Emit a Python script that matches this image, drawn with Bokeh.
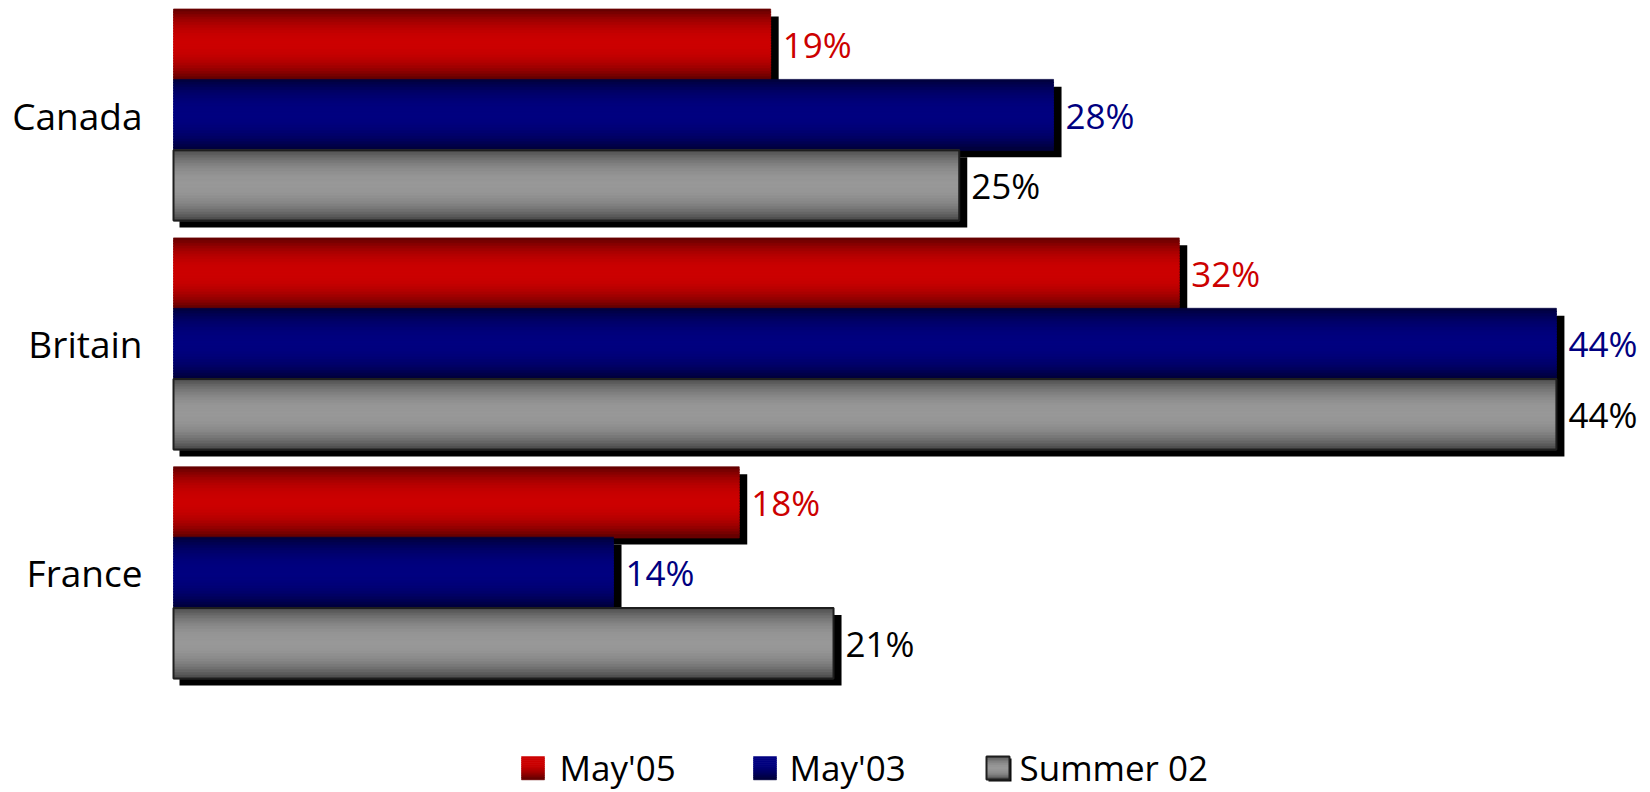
from bokeh.plotting import figure
from bokeh.models import Range1d, ColumnDataSource
from bokeh.embed import file_html
from bokeh.resources import INLINE
from bokeh.core.properties import value

# ---------------- data ----------------
countries = ["Canada", "Britain", "France"]
series_names = ["May'05", "May'03", "Summer 02"]
may05 = [19, 32, 18]
may03 = [28, 44, 14]
summer02 = [25, 44, 21]
series_values = [may05, may03, summer02]

# ---------------- styles ----------------
label_colors = ["#cc0000", "#000080", "#000000"]
dark_colors = [(0x5e, 0x00, 0x00), (0x00, 0x00, 0x38), (0x48, 0x48, 0x48)]
bright_colors = [(0xcc, 0x00, 0x00), (0x00, 0x00, 0x80), (0x98, 0x98, 0x98)]
FONT = value("Open Sans")

# ---------------- layout ----------------
W, H = 1650, 792
X0_PX = 173.0          # pixel of the value 0
PX_PER_UNIT = 31.43    # pixels per percentage point
FIRST_CENTER_PX = 114.5
PITCH_PX = 228.9
BAR_H_PX = 70.4
N_STRIPS = 26

bar_h = BAR_H_PX / PITCH_PX
x_start = -X0_PX / PX_PER_UNIT
x_end = (W - X0_PX) / PX_PER_UNIT
y_start = (H - FIRST_CENTER_PX) / PITCH_PX   # bottom
y_end = -FIRST_CENTER_PX / PITCH_PX          # top (flipped range)


def dx(px):
    return px / PX_PER_UNIT


def dy(px):
    return px / PITCH_PX


def page_x(px):
    return (px - X0_PX) / PX_PER_UNIT


def page_y(py):
    return (py - FIRST_CENTER_PX) / PITCH_PX


def shade(s, f):
    d, b = dark_colors[s], bright_colors[s]
    return "#%02x%02x%02x" % tuple(int(round(d[k] + (b[k] - d[k]) * f)) for k in range(3))


p = figure(width=W, height=H, x_range=Range1d(x_start, x_end),
           y_range=Range1d(y_start, y_end), output_backend="svg",
           toolbar_location=None, min_border=0, outline_line_color=None,
           x_axis_location=None, y_axis_location=None)
p.grid.visible = False
p.background_fill_color = "white"
p.border_fill_color = "white"

group_idx = list(range(len(countries)))

for s, vals in enumerate(series_values):
    centers = [g + (s - 1) * bar_h for g in group_idx]
    # drop shadow
    p.hbar(y=[c + dy(7) for c in centers], left=[dx(6)] * len(vals),
           right=[v + dx(8) for v in vals], height=bar_h,
           fill_color="black", line_color=None)
    # gradient strips
    ys, lefts, rights, cols = [], [], [], []
    for g, v in zip(centers, vals):
        for k in range(N_STRIPS):
            t = (k + 0.5) / N_STRIPS
            f = 1 - abs(2 * t - 1) ** 2.2
            ys.append(g - bar_h / 2 + (k + 0.5) * bar_h / N_STRIPS)
            lefts.append(0)
            rights.append(v)
            cols.append(shade(s, f))
    src = ColumnDataSource(dict(y=ys, left=lefts, right=rights, c=cols))
    p.hbar(y="y", left="left", right="right", height=bar_h / N_STRIPS * 1.3,
           fill_color="c", line_color="c", line_width=0.7, source=src)
    if s == 2:
        p.hbar(y=centers, left=[0] * len(vals), right=vals, height=bar_h,
               fill_color=None, line_color="#1e1e1e", line_width=2)
    # value labels
    p.text(x=vals, y=centers, text=[f"{v}%" for v in vals], x_offset=12,
           text_align="left", text_baseline="middle", text_font=FONT,
           text_font_size="35px", text_color=label_colors[s])

# category labels
p.text(x=[0] * len(countries), y=group_idx, text=countries, x_offset=-31,
       text_align="right", text_baseline="middle", text_font=FONT,
       text_font_size="37px", text_color="black")

# ---------------- legend ----------------
sw_left = [521, 753, 986]
sw_top, sw_size = 756, 23
txt_left = [559, 789, 1019]
txt_y = 767
for s in range(3):
    l, r = page_x(sw_left[s]), page_x(sw_left[s] + sw_size)
    if s == 2:
        p.quad(left=[page_x(sw_left[s] + 2)], right=[page_x(sw_left[s] + sw_size + 2)],
               top=[page_y(sw_top + 2)], bottom=[page_y(sw_top + sw_size + 2)],
               fill_color="black", line_color=None)
    tops, bots, cols = [], [], []
    n = 12
    for k in range(n):
        t = (k + 0.5) / n
        if s == 2:
            f = 1 - abs(2 * t - 1) ** 2.2
        else:
            f = 1 - max(0.0, (t - 0.3) / 0.7) ** 1.6
        tops.append(page_y(sw_top + k * sw_size / n))
        bots.append(page_y(sw_top + (k + 1.2) * sw_size / n))
        cols.append(shade(s, f))
    p.quad(left=[l] * n, right=[r] * n, top=tops, bottom=bots,
           fill_color=cols, line_color=cols, line_width=0.5)
    if s == 2:
        p.quad(left=[l], right=[r], top=[page_y(sw_top)], bottom=[page_y(sw_top + sw_size)],
               fill_color=None, line_color="#1e1e1e", line_width=2)
    p.text(x=[page_x(txt_left[s])], y=[page_y(txt_y)], text=[series_names[s]],
           text_align="left", text_baseline="middle", text_font=FONT,
           text_font_size="35px", text_color="black")

open("out.html", "w").write(file_html(p, INLINE))
